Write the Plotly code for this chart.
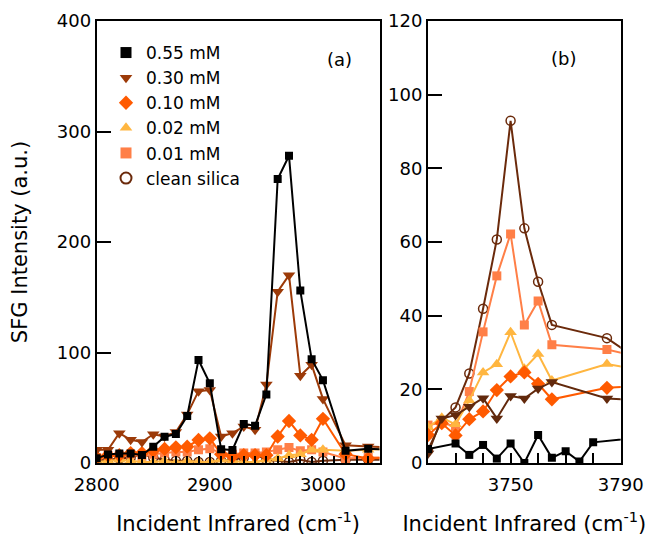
import plotly.graph_objects as go

# ---------------- data ----------------
# panel (a): CH stretching region
wn_a = [2800, 2810, 2820, 2830, 2840, 2850, 2860, 2870, 2880, 2890, 2900, 2910,
        2920, 2930, 2940, 2950, 2960, 2970, 2980, 2990, 3000, 3020, 3040, 3060]
a_055 = [4.2, 7.8, 8.7, 8.7, 7.2, 14.8, 23.8, 26.2, 42.5, 93.2, 72.1, 12.4,
         11.8, 35.3, 33.8, 62.1, 257, 278, 156, 94, 75, 11, 13, 12]
a_030 = [12, 12, 27, 21, 19, 26, 24, 28, 44, 65, 66, 24,
         27, 33, 30, 71, 155, 170, 79, 89, 58, 16, 15, 14]
a_010 = [5, 7, 7, 9, 9, 11, 12.7, 14.2, 14.8, 20.8, 22.3, 8,
         6, 7, 7, 7, 24, 38, 25, 21, 40, 8, 4, 5]
a_002 = [1, 2, 3, 2, 1, 1, 2, 0.5, 2, 1, 1, 3,
         2, 1, 1, 3, 4, 7, 8, 12, 12, 11, 12, 13]
a_001 = [5, 7, 7, 8, 6, 8, 9, 10, 10, 12, 13, 9,
         8, 9, 9, 10, 12, 14, 11, 12, 10, 4, 5, 5]
a_clean = [2, 3, 4, 5, 8, 5, 3, 2, 2, 1, 1, 2,
           3, 5, 8, 3, 2, 1, 3, 1, 2, 3, 3, 3]

# panel (b): free OH region
wn_b_055 = [3720, 3730, 3735, 3740, 3745, 3750, 3755, 3760, 3765, 3770, 3775, 3780, 3800]
b_055 = [3.8, 5.3, 2.2, 4.9, 1.2, 5.3, 0, 7.6, 1.4, 3.2, 0.4, 5.6, 7.2]
wn_b = [3720, 3725, 3730, 3735, 3740, 3745, 3750, 3755, 3760, 3765, 3785, 3800]
b_030 = [2.6, 12.1, 13.0, 15.3, 17.6, 12.1, 18.2, 17.5, 20.2, 22.0, 17.5, 16.9]
b_010 = [7.6, 10.8, 7.5, 11.9, 14.0, 19.8, 23.5, 24.6, 21.5, 17.3, 20.4, 21.1]
b_002 = [9.7, 12.3, 10.5, 17.0, 24.6, 26.8, 35.5, 25.6, 29.6, 22.4, 26.9, 24.8]
b_001 = [10.3, 10.9, 9.9, 19.4, 35.6, 50.8, 62.2, 37.5, 44.0, 32.1, 30.8, 28.3]
b_clean = [3.5, 11.5, 15.1, 24.3, 41.9, 60.7, 92.9, 63.7, 49.2, 37.5, 33.9, 26.2]

labels = ["0.55 mM", "0.30 mM", "0.10 mM", "0.02 mM", "0.01 mM", "clean silica"]
x_ticks_a = [2800, 2900, 3000]
x_ticks_b = [3750, 3790]

# ---------------- style ----------------
FONT = "DejaVu Sans"
C_055 = "#000000"
C_030 = "#9c3a08"
C_030B = "#62290c"
C_010 = "#ff5a00"
C_002 = "#ffb640"
C_001 = "#ff7f47"
C_CLEAN = "#6b2a0b"

W, H = 648, 536
def px_x(p):
    return p / W
def px_y(p):
    return 1 - p / H

fig = go.Figure()

def add(x, y, color, symbol, size, xa, ya, open_=False):
    marker = dict(symbol=symbol, size=size, color=color)
    if open_:
        marker = dict(symbol=symbol, size=size, color=color, line=dict(width=1.5, color=color))
    fig.add_trace(go.Scatter(x=x, y=y, mode="lines+markers", xaxis=xa, yaxis=ya,
                             line=dict(color=color, width=2), marker=marker,
                             showlegend=False, hoverinfo="skip"))

# panel a
add(wn_a, a_clean, C_CLEAN, "circle-open", 9, "x", "y", open_=True)
add(wn_a, a_001, C_001, "square", 9, "x", "y")
add(wn_a, a_002, C_002, "triangle-up", 11, "x", "y")
add(wn_a, a_010, C_010, "diamond", 11, "x", "y")
add(wn_a, a_030, C_030, "triangle-down", 11, "x", "y")
add(wn_a, a_055, C_055, "square", 8, "x", "y")

# panel b
add(wn_b, b_clean, C_CLEAN, "circle-open", 9, "x2", "y2", open_=True)
add(wn_b, b_001, C_001, "square", 9, "x2", "y2")
add(wn_b, b_002, C_002, "triangle-up", 11, "x2", "y2")
add(wn_b, b_010, C_010, "diamond", 11, "x2", "y2")
add(wn_b, b_030, C_030B, "triangle-down", 11, "x2", "y2")
add(wn_b_055, b_055, C_055, "square", 8, "x2", "y2")

# legend entries (markers only)
leg_styles = [(C_055, "square", False), (C_030, "triangle-down", False), (C_010, "diamond", False),
              (C_002, "triangle-up", False), (C_001, "square", False), (C_CLEAN, "circle-open", True)]
for lab, (col, sym, op) in zip(labels, leg_styles):
    mk = dict(symbol=sym, size=11, color=col)
    if op:
        mk["line"] = dict(width=2, color=col)
    fig.add_trace(go.Scatter(x=[None], y=[None], mode="markers", name=lab, marker=mk,
                             xaxis="x", yaxis="y", showlegend=True))

axis_common = dict(showline=True, linewidth=2, linecolor="black", mirror=True,
                   ticks="inside", tickwidth=2, tickcolor="black", showgrid=False,
                   zeroline=False, automargin=False,
                   tickfont=dict(family=FONT, size=18, color="black"))

ydom = [px_y(463), px_y(21)]
xtitle_font = dict(size=21, family=FONT, color="black")
fig.update_layout(
    width=W, height=H,
    margin=dict(l=0, r=0, t=0, b=0, autoexpand=False),
    paper_bgcolor="white", plot_bgcolor="white",
    font=dict(family=FONT, color="black"),
    xaxis=dict(domain=[px_x(96.7), px_x(379.5)], range=[2800, 3050], tickvals=x_ticks_a,
               ticklen=10, ticklabelstandoff=4,
               minor=dict(ticks="inside", dtick=10, tick0=2800, ticklen=7,
                          tickwidth=1.5, tickcolor="black"),
               title=dict(text="Incident Infrared (cm<sup>-1</sup>)", font=xtitle_font, standoff=24),
               anchor="y", **axis_common),
    yaxis=dict(domain=ydom, range=[0, 400], dtick=100, ticklen=14, anchor="x",
               title=dict(text="SFG Intensity (a.u.)", font=xtitle_font, standoff=23),
               **axis_common),
    xaxis2=dict(domain=[px_x(428), px_x(620.7)], range=[3720, 3790], tickvals=x_ticks_b,
                ticklen=10, ticklabelstandoff=4,
                minor=dict(ticks="inside", dtick=10, tick0=3720, ticklen=10,
                           tickwidth=1.5, tickcolor="black"),
                title=dict(text="Incident Infrared (cm<sup>-1</sup>)", font=xtitle_font, standoff=24),
                anchor="y2", **axis_common),
    yaxis2=dict(domain=ydom, range=[0, 120], dtick=20, ticklen=14, anchor="x2", **axis_common),
    legend=dict(x=px_x(106), y=px_y(35), xanchor="left", yanchor="top",
                font=dict(family=FONT, size=17, color="black"), bgcolor="rgba(0,0,0,0)",
                itemwidth=30, tracegroupgap=0, traceorder="normal"),
    annotations=[
        dict(text="(a)", x=px_x(339), y=px_y(47), xref="paper", yref="paper",
             showarrow=False, font=dict(family=FONT, size=18, color="black")),
        dict(text="(b)", x=px_x(577.5), y=px_y(46.5), xref="paper", yref="paper",
             showarrow=False, font=dict(family=FONT, size=18, color="black")),
    ],
)

fig.write_html("out.html", config={"displayModeBar": False},
               post_script="document.body.style.margin='0';document.body.style.overflow='hidden';")
